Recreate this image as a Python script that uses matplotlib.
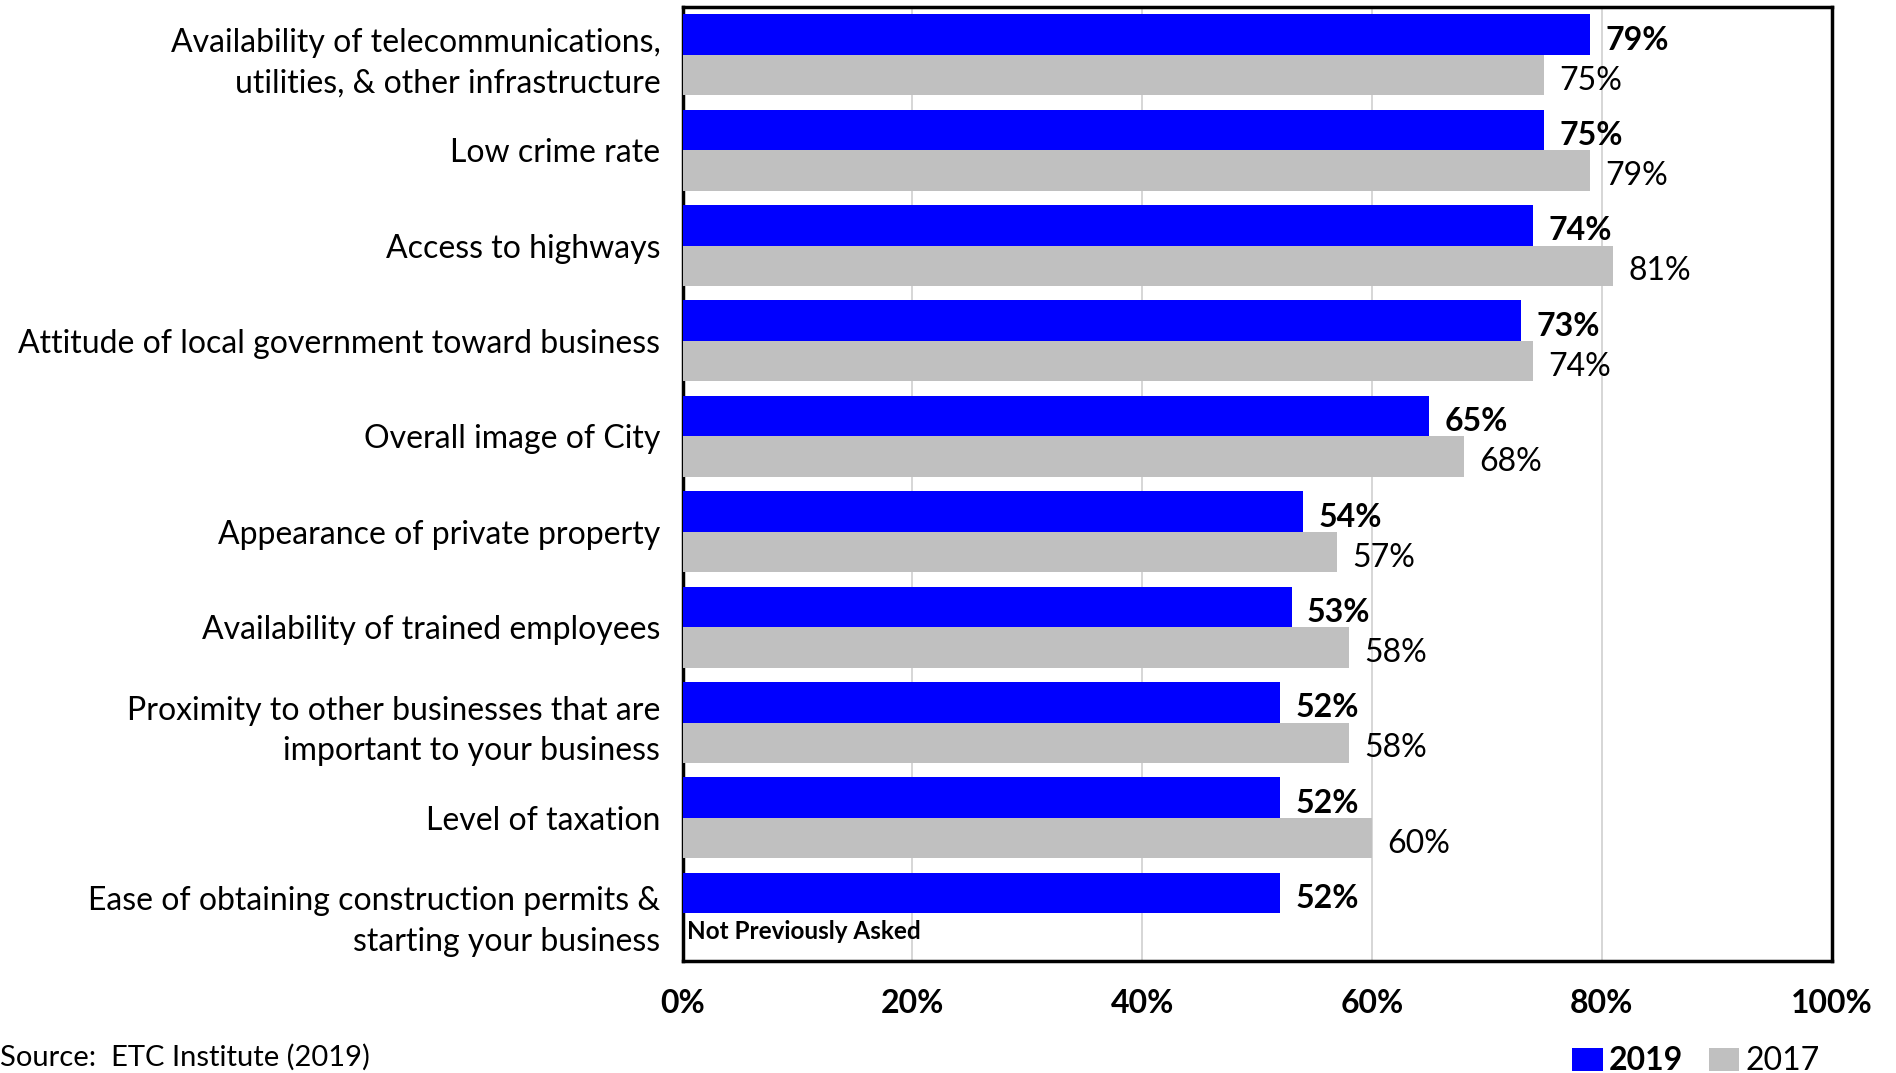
import matplotlib
matplotlib.use("Agg")
import matplotlib.pyplot as plt
from matplotlib.patches import Patch
import numpy as np

plt.rcParams['font.family'] = ['Lato', 'DejaVu Sans']

categories = [
    "Availability of telecommunications,\nutilities, & other infrastructure",
    "Low crime rate",
    "Access to highways",
    "Attitude of local government toward business",
    "Overall image of City",
    "Appearance of private property",
    "Availability of trained employees",
    "Proximity to other businesses that are\nimportant to your business",
    "Level of taxation",
    "Ease of obtaining construction permits &\nstarting your business",
]
values_2019 = [79, 75, 74, 73, 65, 54, 53, 52, 52, 52]
values_2017 = [75, 79, 81, 74, 68, 57, 58, 58, 60, None]
xticks = [0, 20, 40, 60, 80, 100]
xtick_labels = ["0%", "20%", "40%", "60%", "80%", "100%"]

BLUE = "#0000FF"
GRAY = "#C0C0C0"

fig = plt.figure(figsize=(18.96, 10.73), dpi=100)
ax = fig.add_axes([0.360, 0.1044, 0.606, 0.889])

y = np.arange(len(categories))
h = 0.425
ax.barh(y - h / 2, values_2019, height=h, color=BLUE, zorder=3)
v17 = [v if v is not None else 0 for v in values_2017]
ax.barh(y + h / 2, v17, height=h, color=GRAY, zorder=3)

for yi, v in zip(y, values_2019):
    ax.annotate(f"{v}%", (v, yi - h / 2), xytext=(11, -4), textcoords="offset points",
                ha="left", va="center", fontsize=23, fontweight="bold", color="black")
for yi, v in zip(y, values_2017):
    if v is None:
        ax.text(0.4, yi + h / 2 - 0.02, "Not Previously Asked", ha="left", va="center",
                fontsize=17.5, fontweight="bold", color="black")
    else:
        ax.annotate(f"{v}%", (v, yi + h / 2), xytext=(11, -4), textcoords="offset points",
                    ha="left", va="center", fontsize=23, color="black")

ax.set_xlim(0, 100)
ax.set_ylim(len(categories) - 0.5, -0.5)
ax.set_xticks(xticks)
ax.set_xticklabels(xtick_labels, fontsize=23, fontweight="bold")
ax.set_yticks(y)
ax.set_yticklabels(categories, fontsize=23, linespacing=1.45)
ax.tick_params(axis="both", length=0)
ax.tick_params(axis="y", pad=16)
ax.tick_params(axis="x", pad=20)
ax.grid(axis="x", color="#D0D0D0", linewidth=1.2, zorder=0)
for s in ax.spines.values():
    s.set_linewidth(2.5)
    s.set_color("black")

handles = [Patch(facecolor=BLUE, edgecolor="none"), Patch(facecolor=GRAY, edgecolor="none")]
leg = fig.legend(handles, ["2019", "2017"], loc="lower right", bbox_to_anchor=(0.975, -0.03),
                 ncol=2, frameon=False, fontsize=23, handlelength=0.95, handleheight=0.75,
                 handletextpad=0.2, columnspacing=0.8)
leg.get_texts()[0].set_fontweight("bold")

fig.text(0.0, 0.002, "Source:  ETC Institute (2019)", ha="left", va="bottom", fontsize=21)

fig.savefig("out.png", dpi=100)
